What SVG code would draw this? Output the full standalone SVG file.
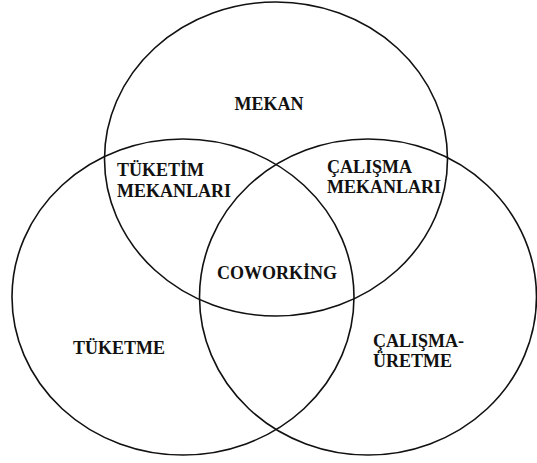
<svg xmlns="http://www.w3.org/2000/svg" width="537" height="463" viewBox="0 0 537 463">
  <style>
    .set { fill: none; stroke: #111; stroke-width: 1.6; }
    .lbl { font-family: "Liberation Serif", "Times New Roman", serif; font-weight: bold; font-size: 18px; fill: #111; }
  </style>
  <rect width="537" height="463" fill="#fff"/>

  <!-- three overlapping sets -->
  <g id="set-mekan">
    <ellipse class="set" cx="276" cy="159" rx="171.5" ry="157"/>
    <text class="lbl" x="269" y="110" text-anchor="middle">MEKAN</text>
  </g>
  <g id="set-tuketme">
    <ellipse class="set" cx="183" cy="297" rx="171" ry="158"/>
    <text class="lbl" x="73" y="354">TÜKETME</text>
  </g>
  <g id="set-calisma">
    <ellipse class="set" cx="368" cy="297" rx="168.5" ry="158"/>
    <text class="lbl" x="373" y="347">ÇALIŞMA-</text>
    <text class="lbl" x="373" y="367">ÜRETME</text>
  </g>

  <!-- overlap regions -->
  <g id="tuketim-mekanlari">
    <text class="lbl" x="117" y="176">TÜKETİM</text>
    <text class="lbl" x="117" y="197">MEKANLARI</text>
  </g>
  <g id="calisma-mekanlari">
    <text class="lbl" x="327" y="173">ÇALIŞMA</text>
    <text class="lbl" x="327" y="193">MEKANLARI</text>
  </g>
  <g id="coworking">
    <text class="lbl" x="217" y="279">COWORKİNG</text>
  </g>

  <g id="connectors"/>
</svg>
